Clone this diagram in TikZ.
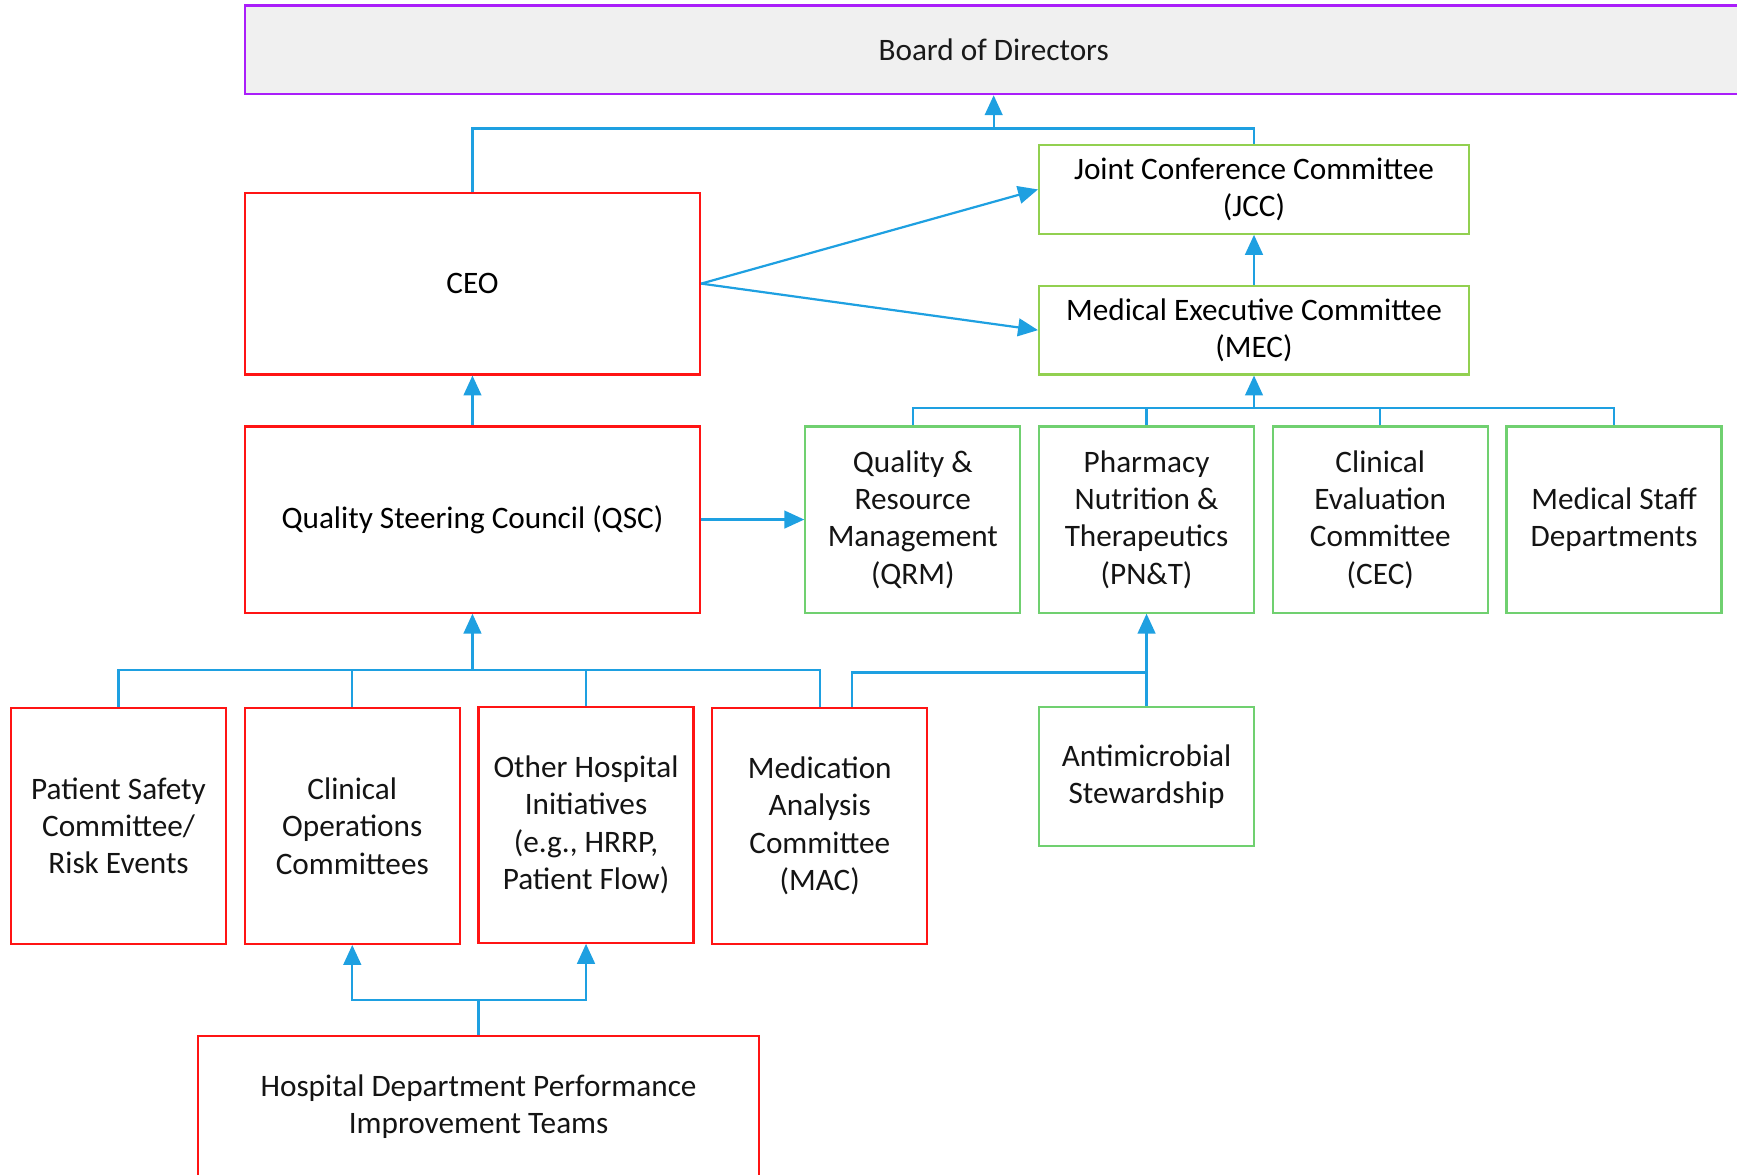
\documentclass[tikz,border=0pt]{standalone}
\usepackage{fontspec}
\setmainfont{Carlito}
\usetikzlibrary{arrows.meta}

\definecolor{linkblue}{RGB}{30,160,225}
\definecolor{boxred}{RGB}{255,20,20}
\definecolor{limegreen}{RGB}{146,208,80}
\definecolor{leafgreen}{RGB}{112,208,112}
\definecolor{boardpurple}{RGB}{170,30,250}
\definecolor{boardfill}{RGB}{240,240,240}
\definecolor{textgray}{RGB}{20,20,20}

\tikzset{
  unit/.style={draw, line width=1pt, inner sep=0pt, align=center,
    font=\fontsize{14.1}{16.9}\selectfont, text=textgray},
  redbox/.style={unit, draw=boxred},
  topgreen/.style={unit, draw=limegreen, text=black},
  leafbox/.style={unit, draw=leafgreen},
  boardbox/.style={unit, draw=boardpurple, fill=boardfill, text=black!90},
  conn/.style={draw=linkblue, line width=1pt},
  arr/.style={conn, -{Triangle[length=9pt,width=8pt]}},
}

\begin{document}
\begin{tikzpicture}[x=0.5pt,y=-0.5pt]
  \useasboundingbox (0,0) rectangle (1568,1060);

  % governance boxes
  \node[boardbox, minimum width=676pt, minimum height=40pt] (board) at (897,45) {Board of Directors};
  \node[redbox, text=black, minimum width=205.5pt, minimum height=82pt] (ceo) at (426.5,256) {CEO};
  \node[topgreen, minimum width=194pt, minimum height=40pt] (jcc) at (1132,171) {Joint Conference Committee\\(JCC)};
  \node[topgreen, minimum width=194pt, minimum height=40pt] (mec) at (1132,298) {Medical Executive Committee\\(MEC)};
  \node[redbox, text=black, minimum width=205.5pt, minimum height=84pt] (qsc) at (426.5,469) {Quality Steering Council (QSC)};

  % medical staff committees
  \node[leafbox, minimum width=97pt, minimum height=84pt] (qrm) at (824,469) {Quality \&\\Resource\\Management\\(QRM)};
  \node[leafbox, minimum width=97pt, minimum height=84pt] (pnt) at (1035,469) {Pharmacy\\Nutrition \&\\Therapeutics\\(PN\&T)};
  \node[leafbox, minimum width=97pt, minimum height=84pt] (cec) at (1246,469) {Clinical\\Evaluation\\Committee\\(CEC)};
  \node[leafbox, minimum width=97pt, minimum height=84pt] (msd) at (1457,469) {Medical Staff\\Departments};
  \node[leafbox, minimum width=97pt, minimum height=63pt] (ams) at (1035,701) {Antimicrobial\\Stewardship};

  % quality committees
  \node[redbox, minimum width=97pt, minimum height=106.5pt] (psc) at (107,745.5) {Patient Safety\\Committee/\\Risk Events};
  \node[redbox, minimum width=97pt, minimum height=106.5pt] (coc) at (318,745.5) {Clinical\\Operations\\Committees};
  \node[redbox, minimum width=97pt, minimum height=106.5pt] (ohi) at (529,744.5) {Other Hospital\\Initiatives\\(e.g., HRRP,\\Patient Flow)};
  \node[redbox, minimum width=97pt, minimum height=106.5pt] (mac) at (740,745.5) {Medication\\Analysis\\Committee\\(MAC)};
  \node[redbox, minimum width=253pt, minimum height=64pt] (hdp) at (432,999) {Hospital Department Performance\\Improvement Teams};

  % junction points of the connector buses
  \coordinate (topbus) at (897,116);
  \coordinate (gbus) at (1132,368);
  \coordinate (rbus) at (426.5,605);
  \coordinate (abus) at (1035,607);
  \coordinate (mtap) at ([xshift=14.5pt]mac.north);
  \coordinate (hbus) at (432,903);

  % CEO and JCC report to the board
  \draw[conn] (ceo.north) |- (topbus) -| (jcc.north);
  \draw[arr] (topbus) -- (board.south);
  \draw[arr] (ceo.east) -- (jcc.west);
  \draw[arr] (ceo.east) -- (mec.west);
  \draw[arr] (mec.north) -- (jcc.south);
  \draw[arr] (qsc.north) -- (ceo.south);
  \draw[arr] (qsc.east) -- (qrm.west);

  % medical staff committees to MEC
  \draw[conn] (qrm.north) |- (msd.north |- gbus) -- (msd.north);
  \draw[conn] (pnt.north) -- (pnt.north |- gbus);
  \draw[conn] (cec.north) -- (cec.north |- gbus);
  \draw[arr] (gbus) -- (mec.south);

  % quality committees to QSC
  \draw[conn] (psc.north) |- (mac.north |- rbus) -- (mac.north);
  \draw[conn] (coc.north) -- (coc.north |- rbus);
  \draw[conn] (ohi.north) -- (ohi.north |- rbus);
  \draw[arr] (rbus) -- (qsc.south);

  % MAC and stewardship to PN&T
  \draw[conn] (mtap) |- (abus);
  \draw[arr] (ams.north) -- (pnt.south);

  % improvement teams
  \draw[conn] (hdp.north) -- (hbus);
  \draw[arr] (hbus) -| (coc.south);
  \draw[arr] (hbus) -| (ohi.south);
\end{tikzpicture}
\end{document}
